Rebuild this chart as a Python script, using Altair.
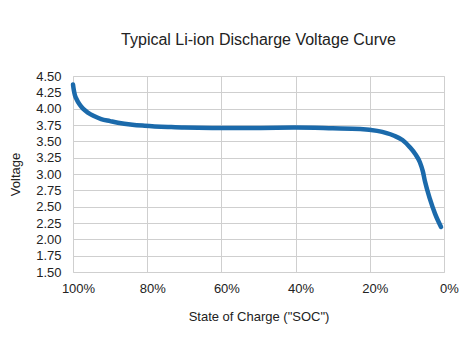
import altair as alt
import pandas as pd

soc = [100, 99.8, 99.5, 99, 98.3, 97.3, 96, 94.5, 92.4, 90, 87.9, 84, 80.7, 74.4, 70, 60, 50, 40, 30, 22.6, 18, 13.6, 11.2, 9.2, 7.8, 6.5, 5.7, 5.1, 3.8, 2.4, 0.8]
volt = [4.37, 4.29, 4.21, 4.14, 4.07, 4.00, 3.94, 3.89, 3.84, 3.81, 3.785, 3.755, 3.74, 3.72, 3.71, 3.705, 3.705, 3.71, 3.70, 3.69, 3.66, 3.59, 3.52, 3.41, 3.31, 3.18, 3.04, 2.88, 2.62, 2.39, 2.19]

df = pd.DataFrame({"soc": soc, "volt": volt})

x_ticks = [100, 80, 60, 40, 20, 0]
y_ticks = [1.5, 1.75, 2.0, 2.25, 2.5, 2.75, 3.0, 3.25, 3.5, 3.75, 4.0, 4.25, 4.5]

font = "Liberation Sans"

chart = alt.Chart(df).mark_line(color="#1b6aab", strokeWidth=4.5, interpolate="monotone", strokeCap="round").encode(
    x=alt.X("soc:Q", scale=alt.Scale(domain=[0, 100], reverse=True, nice=False),
            axis=alt.Axis(values=x_ticks, labelExpr="datum.value + '%'", title='State of Charge ("SOC")',
                          grid=True, gridColor="#cfcfcf", domain=False, ticks=False,
                          labelPadding=10, labelOffset=5, labelFontSize=13, titleFontSize=13, titlePadding=15,
                          labelColor="#222222", titleColor="#222222", labelFont=font, titleFont=font,
                          titleFontWeight="normal", labelFlush=False)),
    y=alt.Y("volt:Q", scale=alt.Scale(domain=[1.5, 4.5], nice=False, zero=False),
            axis=alt.Axis(values=y_ticks, format=".2f", title="Voltage",
                          grid=True, gridColor="#cfcfcf", domain=False, ticks=False,
                          labelPadding=12, labelFontSize=13, titleFontSize=13, titlePadding=13,
                          labelColor="#222222", titleColor="#222222", labelFont=font, titleFont=font,
                          titleFontWeight="normal", labelFlush=False)),
).properties(
    width=371,
    height=196,
    title=alt.TitleParams("Typical Li-ion Discharge Voltage Curve", font=font, fontSize=16,
                          fontWeight="normal", color="#222222", offset=22, anchor="middle"),
    autosize=alt.AutoSizeParams(type="none"),
    padding={"left": 73, "top": 76, "right": 30, "bottom": 79},
).configure_view(stroke="#c8c8c8", strokeWidth=1).configure(background="white")

chart.save("out.html", embed_options={"renderer": "svg", "actions": False})
